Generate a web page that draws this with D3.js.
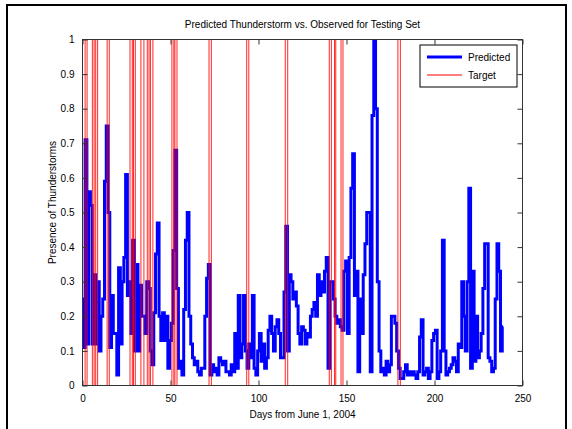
<!DOCTYPE html>
<html>
<head>
<meta charset="utf-8">
<script src="https://cdn.jsdelivr.net/npm/d3@7"></script>
<style>
  body { margin: 0; background: #fff; }
  text { font-family: "Liberation Sans", Arial, sans-serif; fill: #000; }
</style>
</head>
<body>
<div id="chart"></div>
<script>
// Predicted value, one per day starting at day 0 (June 1, 2004)
const predicted = [
  0.25, 0.11, 0.71, 0.12, 0.56, 0.52, 0.12, 0.32, 0.12, 0.30,
  0.10, 0.20, 0.25, 0.59, 0.75, 0.50, 0.11, 0.26, 0.15, 0.15,
  0.03, 0.34, 0.12, 0.30, 0.37, 0.61, 0.26, 0.30, 0.15, 0.42,
  0.10, 0.35, 0.10, 0.29, 0.20, 0.20, 0.15, 0.30, 0.28, 0.10,
  0.06, 0.21, 0.38, 0.47, 0.20, 0.13, 0.21, 0.13, 0.20, 0.05,
  0.13, 0.18, 0.39, 0.68, 0.28, 0.05, 0.07, 0.03, 0.22, 0.42,
  0.50, 0.20, 0.12, 0.08, 0.06, 0.07, 0.04, 0.03, 0.05, 0.05,
  0.20, 0.31, 0.35, 0.03, 0.06, 0.04, 0.05, 0.03, 0.08, 0.07,
  0.06, 0.07, 0.04, 0.04, 0.03, 0.06, 0.04, 0.15, 0.05, 0.26,
  0.08, 0.12, 0.26, 0.10, 0.05, 0.12, 0.08, 0.26, 0.05, 0.03,
  0.10, 0.15, 0.07, 0.12, 0.05, 0.08, 0.16, 0.20, 0.15, 0.10,
  0.17, 0.19, 0.15, 0.08, 0.08, 0.27, 0.46, 0.10, 0.32, 0.30,
  0.25, 0.27, 0.23, 0.15, 0.12, 0.17, 0.16, 0.12, 0.15, 0.14,
  0.20, 0.22, 0.24, 0.20, 0.32, 0.26, 0.30, 0.27, 0.33, 0.37,
  0.05, 0.30, 0.30, 0.25, 0.20, 0.18, 0.19, 0.17, 0.16, 0.33,
  0.36, 0.15, 0.37, 0.57, 0.67, 0.26, 0.33, 0.04, 0.25, 0.15,
  0.32, 0.41, 0.50, 0.50, 0.04, 0.78, 1.00, 0.80, 0.30, 0.10,
  0.04, 0.05, 0.03, 0.07, 0.04, 0.06, 0.20, 0.20, 0.18, 0.10,
  0.05, 0.02, 0.02, 0.04, 0.06, 0.03, 0.04, 0.03, 0.04, 0.03,
  0.02, 0.04, 0.14, 0.19, 0.03, 0.04, 0.05, 0.02, 0.04, 0.13,
  0.15, 0.16, 0.02, 0.04, 0.10, 0.42, 0.10, 0.03, 0.04, 0.05,
  0.06, 0.08, 0.07, 0.04, 0.12, 0.11, 0.30, 0.20, 0.10, 0.30,
  0.57, 0.05, 0.33, 0.07, 0.20, 0.08, 0.10, 0.15, 0.28, 0.41,
  0.41, 0.08, 0.07, 0.04, 0.05, 0.25, 0.41, 0.33, 0.10, 0.17
];

// Observed thunderstorm periods (target = 1 between start and end day)
const targetStart = [1.5, 5.6, 7.5, 14.0, 27.0, 29.0, 33.2, 36.8, 38.6, 50.8, 52.5, 71.9, 93.3, 115.2, 140.2, 143.2, 146.9, 179.2];
const targetEnd   = [2.6, 6.6, 8.6, 15.2, 28.3, 30.0, 34.9, 37.8, 40.0, 51.9, 53.7, 73.2, 94.5, 116.6, 141.4, 143.9, 148.0, 180.6];

const xTicks = [0, 50, 100, 150, 200, 250];
const yTicks = [0, 0.1, 0.2, 0.3, 0.4, 0.5, 0.6, 0.7, 0.8, 0.9, 1];

const width = 572;
const height = 429;
const plot = { left: 82.5, right: 522.5, top: 39.5, bottom: 385.5 };

const svg = d3.select("#chart")
    .append("svg")
    .attr("width", width)
    .attr("height", height);

// Figure frame
svg.append("rect")
    .attr("x", 7)
    .attr("y", 5)
    .attr("width", 559)
    .attr("height", 440)
    .attr("fill", "none")
    .attr("stroke", "#000")
    .attr("stroke-width", 2);

const x = d3.scaleLinear().domain([0, 250]).range([plot.left, plot.right]);
const y = d3.scaleLinear().domain([0, 1]).range([plot.bottom, plot.top]);

// Clip the data to the axes
svg.append("clipPath")
    .attr("id", "clip")
    .append("rect")
    .attr("x", plot.left)
    .attr("y", plot.top)
    .attr("width", plot.right - plot.left)
    .attr("height", plot.bottom - plot.top);

const dataLayer = svg.append("g").attr("clip-path", "url(#clip)");

// Predicted line (values hold within a day, so draw as steps)
const predLine = d3.line()
    .x((d, i) => x(i))
    .y(d => y(d))
    .curve(d3.curveStep);

dataLayer.append("path")
    .datum(predicted)
    .attr("fill", "none")
    .attr("stroke", "#0000ff")
    .attr("stroke-width", 3)
    .attr("stroke-linejoin", "miter")
    .attr("d", predLine);

// Target line, built from start/end of each observed period
const targetPoints = [[0, 0]];
targetStart.forEach((s, i) => {
    targetPoints.push([s, 0], [s, 1], [targetEnd[i], 1], [targetEnd[i], 0]);
});
targetPoints.push([239, 0]);

dataLayer.append("path")
    .datum(targetPoints)
    .attr("fill", "none")
    .attr("stroke", "#ff0000")
    .attr("stroke-opacity", 0.85)
    .attr("stroke-width", 1)
    .attr("d", d3.line().x(d => x(d[0])).y(d => y(d[1])));

// Axes with inward ticks on all four sides
const axisColor = "#333";

function styleAxis(g) {
    g.select(".domain").remove();
    g.selectAll(".tick line").attr("stroke", axisColor);
    g.selectAll(".tick text")
        .style("font-family", "'Liberation Sans', Arial, sans-serif")
        .style("font-size", "10px")
        .attr("fill", "#000");
}

svg.append("g")
    .attr("transform", `translate(0, ${plot.bottom})`)
    .call(d3.axisBottom(x).tickValues(xTicks).tickSizeInner(-5).tickSizeOuter(0).tickPadding(9))
    .call(styleAxis);

svg.append("g")
    .attr("transform", `translate(0, ${plot.top})`)
    .call(d3.axisTop(x).tickValues(xTicks).tickSizeInner(-5).tickSizeOuter(0).tickFormat(""))
    .call(styleAxis);

svg.append("g")
    .attr("transform", `translate(${plot.left}, 0)`)
    .call(d3.axisLeft(y).tickValues(yTicks).tickSizeInner(-5).tickSizeOuter(0).tickPadding(8).tickFormat(d3.format("")))
    .call(styleAxis);

svg.append("g")
    .attr("transform", `translate(${plot.right}, 0)`)
    .call(d3.axisRight(y).tickValues(yTicks).tickSizeInner(-5).tickSizeOuter(0).tickFormat(""))
    .call(styleAxis);

// Axes box
svg.append("rect")
    .attr("x", plot.left)
    .attr("y", plot.top)
    .attr("width", plot.right - plot.left)
    .attr("height", plot.bottom - plot.top)
    .attr("fill", "none")
    .attr("stroke", axisColor)
    .attr("stroke-width", 1);

// Title and axis labels
svg.append("text")
    .attr("x", (plot.left + plot.right) / 2)
    .attr("y", 28)
    .attr("text-anchor", "middle")
    .style("font-size", "10px")
    .text("Predicted Thunderstorm vs. Observed for Testing Set");

svg.append("text")
    .attr("x", (plot.left + plot.right) / 2)
    .attr("y", 418)
    .attr("text-anchor", "middle")
    .style("font-size", "10px")
    .text("Days from June 1, 2004");

svg.append("text")
    .attr("transform", `translate(56, ${(plot.top + plot.bottom) / 2 - 10}) rotate(-90)`)
    .attr("text-anchor", "middle")
    .style("font-size", "10px")
    .text("Presence of Thunderstorms");

// Legend
const legend = svg.append("g").attr("transform", "translate(420, 45)");

legend.append("rect")
    .attr("width", 97)
    .attr("height", 42)
    .attr("fill", "#fff")
    .attr("stroke", "#000")
    .attr("stroke-width", 1);

legend.append("line")
    .attr("x1", 7).attr("x2", 42)
    .attr("y1", 12).attr("y2", 12)
    .attr("stroke", "#0000ff")
    .attr("stroke-width", 3);

legend.append("text")
    .attr("x", 48)
    .attr("y", 16)
    .style("font-size", "10px")
    .text("Predicted");

legend.append("line")
    .attr("x1", 7).attr("x2", 42)
    .attr("y1", 30).attr("y2", 30)
    .attr("stroke", "#ff0000")
    .attr("stroke-width", 1);

legend.append("text")
    .attr("x", 48)
    .attr("y", 34)
    .style("font-size", "10px")
    .text("Target");
</script>
</body>
</html>
